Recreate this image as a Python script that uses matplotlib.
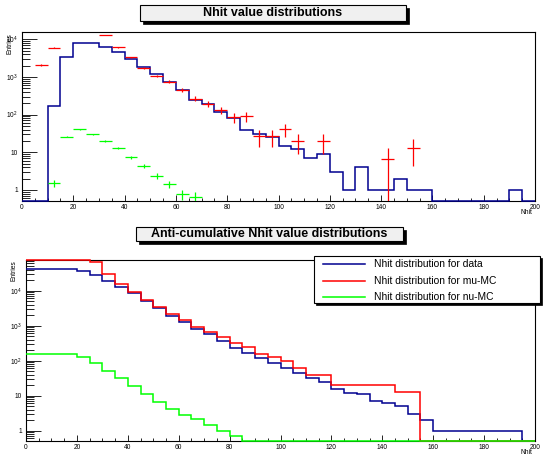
import numpy as np
import matplotlib.pyplot as plt
from matplotlib.patches import Rectangle
from matplotlib.lines import Line2D
from matplotlib.ticker import LogLocator, MultipleLocator, FuncFormatter, NullFormatter

plt.rcParams['font.family'] = ['Liberation Sans', 'DejaVu Sans']
plt.rcParams['mathtext.fontset'] = 'custom'
plt.rcParams['mathtext.rm'] = 'Liberation Sans'
plt.rcParams['mathtext.it'] = 'Liberation Sans:italic'

# binning: 40 bins of width 5 from 0 to 200
edges = np.arange(0, 201, 5)

# top panel: Nhit histograms
data_counts = [0, 0, 172, 3450, 7800, 8100, 6050, 4500, 2930, 1870,
               1170, 720, 450, 245, 190, 120, 83, 39, 30, 26,
               15, 12, 7, 9, 3, 1, 4, 1, 1, 2,
               1, 1, 0, 0, 0, 0, 0, 0, 1, 0]

mu_centers = [7.5, 12.5, 17.5, 22.5, 27.5, 32.5, 37.5, 42.5, 47.5, 52.5, 57.5, 62.5,
              67.5, 72.5, 77.5, 82.5, 87.5, 92.5, 97.5, 102.5, 107.5, 117.5, 142.5, 152.5]
mu_values = [2080, 6000, 18000, 30000, 35000, 13000, 6050, 3300, 1750, 1050, 745, 450,
             265, 190, 133, 84, 92, 27, 27, 41, 20, 20, 6.5, 13.3]
mu_errors = [112, 190, 330, 420, 460, 280, 190, 141, 102, 79, 67, 52,
             40, 34, 28, 25, 27, 13, 13, 15, 11, 11, 6.3, 9]

nu_centers = [12.5, 17.5, 22.5, 27.5, 32.5, 37.5, 42.5, 47.5, 52.5, 57.5, 62.5, 67.5]
nu_values = [1.55, 26, 41, 30, 20.4, 13.2, 7.4, 4.4, 2.4, 1.47, 0.77, 0.65]
nu_errors = [0.32, 1.3, 1.6, 1.4, 1.2, 0.93, 0.7, 0.54, 0.4, 0.31, 0.23, 0.21]

# bottom panel: anti-cumulative distributions
data_anticum = [40800, 40800, 40800, 40800, 36600, 28000, 19300, 13000, 8400, 5150,
                3150, 1940, 1250, 805, 570, 370, 235, 162, 117, 87,
                61, 44, 33, 25, 16, 12, 11, 7, 6, 5,
                3, 2, 1, 1, 1, 1, 1, 1, 1, 0]
mu_anticum = [75000, 75000, 75000, 75000, 75000, 65000, 29500, 15500, 9000, 5400,
              3350, 2200, 1450, 935, 660, 485, 325, 250, 152, 130,
              100, 61, 40, 40, 20, 20, 20, 20, 20, 13,
              13, 0, 0, 0, 0, 0, 0, 0, 0, 0]
nu_anticum = [152, 152, 152, 152, 130, 84, 52, 31.5, 19, 11.2,
              6.7, 4.3, 2.9, 2.1, 1.45, 1.0, 0.7, 0, 0, 0,
              0, 0, 0, 0, 0, 0, 0, 0, 0, 0,
              0, 0, 0, 0, 0, 0, 0, 0, 0, 0]

legend_labels = ['Nhit distribution for data', 'Nhit distribution for mu-MC',
                 'Nhit distribution for nu-MC']
titles = ['Nhit value distributions', 'Anti-cumulative Nhit value distributions']

BLUE = '#000090'
RED = '#ff0000'
GREEN = '#00ff00'

W, H = 543, 457


def fx(px):
    return px / W


def fy(py):
    return 1 - py / H


def log_fmt(v, pos):
    if v == 1:
        return '1'
    if v == 10:
        return '10'
    return r'$10^{%d}$' % round(np.log10(v))


def style(ax, ymin, ymax):
    ax.set_yscale('log')
    ax.set_xlim(0, 200)
    ax.set_ylim(ymin, ymax)
    ax.xaxis.set_major_locator(MultipleLocator(20))
    ax.xaxis.set_minor_locator(MultipleLocator(5))
    ax.yaxis.set_major_locator(LogLocator(base=10, numticks=12))
    ax.yaxis.set_minor_locator(LogLocator(base=10, subs=np.arange(2, 10), numticks=12))
    ax.yaxis.set_minor_formatter(NullFormatter())
    ax.yaxis.set_major_formatter(FuncFormatter(log_fmt))
    ax.tick_params(axis='both', which='both', direction='in', labelsize=4.8, width=0.6)
    ax.tick_params(axis='y', which='major', length=10.8, pad=3)
    ax.tick_params(axis='y', which='minor', length=5.4)
    ax.tick_params(axis='x', which='major', length=4.3, pad=2)
    ax.tick_params(axis='x', which='minor', length=2.2)
    for s in ax.spines.values():
        s.set_linewidth(0.8)
    ax.annotate('Nhit', xy=(1, 0), xycoords='axes fraction', xytext=(-3, -12),
                textcoords='offset pixels', ha='right', va='center', fontsize=4.8)
    ax.annotate('Entries', xy=(0, 1), xycoords='axes fraction', xytext=(-12, -1),
                textcoords='offset pixels', ha='center', va='top', rotation=90, fontsize=4.8)


def title_box(text, x0, y0, x1, y1):
    fig.add_artist(Rectangle((fx(x0 + 3), fy(y1 + 3)), fx(x1) - fx(x0), fy(y0) - fy(y1),
                             transform=fig.transFigure, facecolor='black', edgecolor='black', lw=0.5))
    fig.add_artist(Rectangle((fx(x0), fy(y1)), fx(x1) - fx(x0), fy(y0) - fy(y1),
                             transform=fig.transFigure, facecolor='#f0f0f0', edgecolor='black', lw=0.8))
    fig.text((fx(x0) + fx(x1)) / 2, (fy(y0) + fy(y1)) / 2, text, ha='center', va='center',
             fontsize=9, fontweight='bold')


fig = plt.figure(figsize=(W / 100, H / 100), dpi=100)
fig.patch.set_facecolor('white')

# ---- top panel ----
ax1 = fig.add_axes([fx(22), fy(201), fx(535) - fx(22), fy(32) - fy(201)])
ymin1, ymax1 = 0.51, 15500
style(ax1, ymin1, ymax1)
ax1.stairs(np.clip(data_counts, ymin1, None), edges, color=BLUE, lw=1.1,
           baseline=None, clip_on=False, zorder=3)
ax1.errorbar(mu_centers, mu_values, xerr=2.5, yerr=mu_errors, fmt='none',
             ecolor=RED, elinewidth=0.9, capsize=0, zorder=4)
ax1.errorbar(nu_centers, nu_values, xerr=2.5, yerr=nu_errors, fmt='none',
             ecolor=GREEN, elinewidth=0.9, capsize=0, zorder=4)

# ---- bottom panel ----
ax2 = fig.add_axes([fx(26), fy(441), fx(535) - fx(26), fy(259.5) - fy(441)])
ymin2, ymax2 = 0.508, 78000
style(ax2, ymin2, ymax2)
colors = [BLUE, RED, GREEN]
for vals, c in zip([data_anticum, mu_anticum, nu_anticum], colors):
    ax2.stairs(np.clip(vals, ymin2, None), edges, color=c, lw=1.1,
               baseline=None, clip_on=False, zorder=3)

# titles
title_box(titles[0], 140, 4.7, 406, 21)
title_box(titles[1], 136, 226.7, 403, 240.7)

# legend (manual, ROOT-like box)
lx0, ly0, lx1, ly1 = 314, 256, 540, 303
fig.add_artist(Rectangle((fx(lx0 + 1.5), fy(ly1 + 1.5)), fx(lx1) - fx(lx0), fy(ly0) - fy(ly1),
                         transform=fig.transFigure, facecolor='black', edgecolor='black', lw=0.5, zorder=5))
fig.add_artist(Rectangle((fx(lx0), fy(ly1)), fx(lx1) - fx(lx0), fy(ly0) - fy(ly1),
                         transform=fig.transFigure, facecolor='white', edgecolor='black', lw=0.8, zorder=6))
for row_y, lab, c in zip([264.3, 281, 296.7], legend_labels, colors):
    fig.add_artist(Line2D([fx(323), fx(365)], [fy(row_y), fy(row_y)], transform=fig.transFigure,
                          color=c, lw=1.1, zorder=7))
    fig.text(fx(374), fy(row_y), lab, ha='left', va='center', fontsize=7.4, zorder=7)

fig.savefig('out.png', dpi=100)
